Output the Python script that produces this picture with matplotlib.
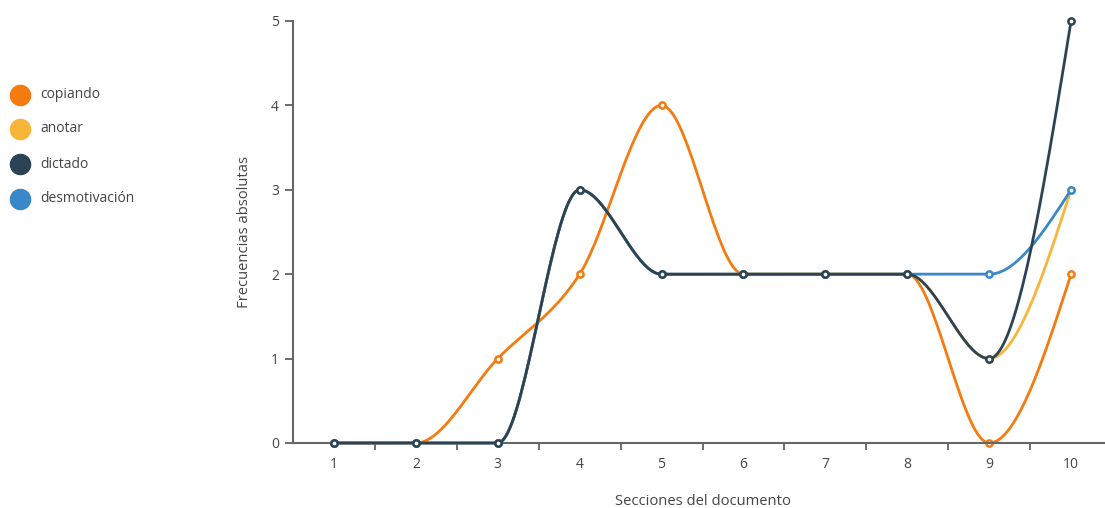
import numpy as np
import matplotlib.pyplot as plt
from matplotlib.lines import Line2D

plt.rcParams['font.family'] = ['Open Sans', 'DejaVu Sans']

secciones = [1, 2, 3, 4, 5, 6, 7, 8, 9, 10]
copiando = [0, 0, 1, 2, 4, 2, 2, 2, 0, 2]
anotar = [0, 0, 0, 3, 2, 2, 2, 2, 1, 3]
dictado = [0, 0, 0, 3, 2, 2, 2, 2, 1, 5]
desmotivacion = [0, 0, 0, 3, 2, 2, 2, 2, 2, 3]

series = [
    ('copiando', copiando, '#F47B0F'),
    ('anotar', anotar, '#F9B53A'),
    ('dictado', dictado, '#2C4356'),
    ('desmotivación', desmotivacion, '#3A88C8'),
]
# draw order: dictado ends up on top
draw_order = [0, 1, 3, 2]


def monotone_curve(x, y, n=40):
    # monotone cubic (steffen style) through the points, sampled as beziers
    x = np.asarray(x, float)
    y = np.asarray(y, float)
    h = np.diff(x)
    s = np.diff(y) / h
    m = np.zeros(len(x))
    for i in range(1, len(x) - 1):
        p = (s[i - 1] * h[i] + s[i] * h[i - 1]) / (h[i - 1] + h[i])
        m[i] = (np.sign(s[i - 1]) + np.sign(s[i])) * min(abs(s[i - 1]), abs(s[i]), 0.5 * abs(p))
    m[0] = (3 * s[0] - m[1]) / 2
    m[-1] = (3 * s[-1] - m[-2]) / 2
    xs, ys = [], []
    t = np.linspace(0, 1, n)
    for i in range(len(x) - 1):
        dx = h[i] / 3
        p0 = np.array([x[i], y[i]])
        p1 = np.array([x[i] + dx, y[i] + dx * m[i]])
        p2 = np.array([x[i + 1] - dx, y[i + 1] - dx * m[i + 1]])
        p3 = np.array([x[i + 1], y[i + 1]])
        b = ((1 - t) ** 3)[:, None] * p0 + (3 * (1 - t) ** 2 * t)[:, None] * p1 \
            + (3 * (1 - t) * t ** 2)[:, None] * p2 + (t ** 3)[:, None] * p3
        xs.extend(b[:, 0])
        ys.extend(b[:, 1])
    return np.array(xs), np.array(ys)


fig = plt.figure(figsize=(11.05, 5.08), dpi=100)
ax = fig.add_axes([293 / 1105, 65 / 508, 819 / 1105, 422 / 508])

for z, i in enumerate(draw_order):
    name, vals, col = series[i]
    cx, cy = monotone_curve(secciones, vals)
    ax.plot(cx, cy, color=col, lw=2, solid_capstyle='round', clip_on=False, zorder=2 + z)
    ax.plot(secciones, vals, 'o', ms=4.5, mfc='white', mec=col, mew=1.8, clip_on=False, zorder=2 + z)

ax.set_xlim(0.5, 10.5)
ax.set_ylim(0, 5)
ax.set_yticks(range(6))
ax.set_xticks(secciones)
ax.set_xticks(np.arange(1.5, 10.5, 1), minor=True)
ax.tick_params(axis='x', which='major', length=0, pad=10, labelsize=10, labelcolor='#444')
ax.tick_params(axis='x', which='minor', length=5, width=1.2, color='#555', direction='out')
ax.tick_params(axis='y', length=6, width=1.2, color='#555', pad=4, labelsize=10, labelcolor='#444')
for side in ['top', 'right']:
    ax.spines[side].set_visible(False)
for side in ['left', 'bottom']:
    ax.spines[side].set_color('#666')
    ax.spines[side].set_linewidth(1.5)

ax.set_xlabel('Secciones del documento', fontsize=10.6, color='#444', labelpad=16)
ax.set_ylabel('Frecuencias absolutas', fontsize=10.6, color='#444', labelpad=14)

# legend on the left
legend_y = [95, 129, 164, 199]
for (name, vals, col), yy in zip(series, legend_y):
    fy = 1 - yy / 508
    fig.add_artist(Line2D([20 / 1105], [fy], marker='o', ms=14.5, color=col, lw=0,
                          transform=fig.transFigure))
    fig.text(40 / 1105, fy, name, fontsize=10, color='#444', va='center', ha='left')

fig.savefig('out.png', dpi=100)
